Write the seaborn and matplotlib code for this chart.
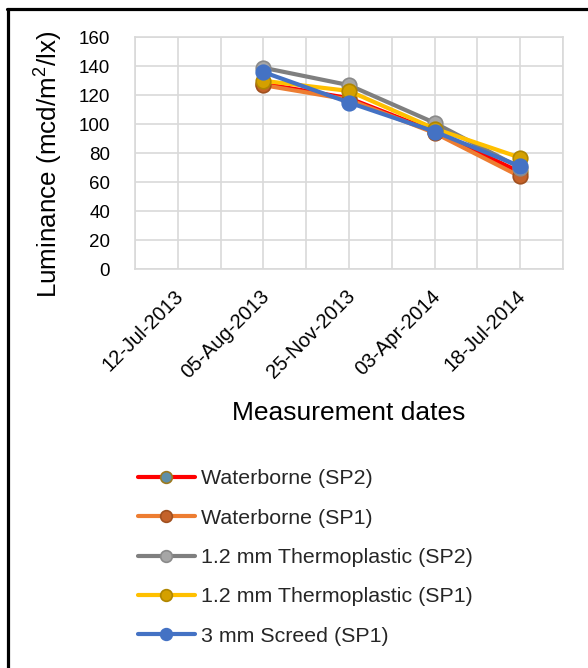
import numpy as np
import pandas as pd
import seaborn as sns
import matplotlib
matplotlib.use('Agg')
import matplotlib.pyplot as plt
import matplotlib.transforms as mtransforms
from matplotlib.lines import Line2D

# Даты измерений
dates = ['12-Jul-2013', '05-Aug-2013', '25-Nov-2013', '03-Apr-2014', '18-Jul-2014']

# Значения яркости по сериям (первая дата без данных)
waterborne_sp2 = [np.nan, 128, 118, 95, 67]
waterborne_sp1 = [np.nan, 127, 117, 94, 64]
thermo_sp2 = [np.nan, 139, 127, 101, 70]
thermo_sp1 = [np.nan, 130, 123, 97, 77]
screed_sp1 = [np.nan, 136, 115, 95, 71]

series_names = ['Waterborne (SP2)', 'Waterborne (SP1)', '1.2 mm Thermoplastic (SP2)',
                '1.2 mm Thermoplastic (SP1)', '3 mm Screed (SP1)']
series_values = [waterborne_sp2, waterborne_sp1, thermo_sp2, thermo_sp1, screed_sp1]
line_colors = ['#FF0000', '#ED7D31', '#7F7F7F', '#FFC000', '#4472C4']
marker_faces = ['#5E8FA8', '#C4622A', '#A6A6A6', '#D4A000', '#4472C4']
marker_edges = ['#9C7A1E', '#A0501F', '#8A8A8A', '#B08600', '#4472C4']

sns.set_theme(style='white')
plt.rcParams['font.family'] = ['Liberation Sans', 'DejaVu Sans']
plt.rcParams['mathtext.fontset'] = 'custom'
plt.rcParams['mathtext.rm'] = 'Liberation Sans'

fig = plt.figure(figsize=(5.88, 6.68), dpi=100)
ax = fig.add_axes([135 / 588, 1 - 269.3 / 668, 428 / 588, 232 / 668])

x_pos = np.arange(len(dates))
for name, vals, lc, mf, me in zip(series_names, series_values, line_colors, marker_faces, marker_edges):
    df = pd.DataFrame({'x': x_pos, 'y': vals})
    sns.lineplot(data=df, x='x', y='y', ax=ax, color=lc, linewidth=3, label=name,
                 marker='o', markersize=10.5, markerfacecolor=mf, markeredgecolor=me,
                 markeredgewidth=1.2)

ax.set_xlim(-0.5, len(dates) - 0.5)
ax.set_ylim(0, 160)
ax.set_yticks(np.arange(0, 161, 20))
ax.set_xticks(x_pos)
ax.set_xticklabels([])

# подписи дат: повернуты на 45°, чуть левее и ниже категории
trans = mtransforms.blended_transform_factory(ax.transData, ax.transAxes)
trans = trans + mtransforms.ScaledTranslation(-4 / 100, -17 / 100, fig.dpi_scale_trans)
for xi, d in zip(x_pos, dates):
    ax.text(xi, 0, d, transform=trans, rotation=45, ha='right', va='top',
            rotation_mode='anchor', fontsize=14.5, color='#000000')

# Сетка: линии на каждой категории и между ними
for xv in np.arange(-0.5, len(dates), 0.5):
    ax.axvline(xv, color='#D9D9D9', linewidth=1.2, zorder=0)
for yv in np.arange(0, 161, 20):
    ax.axhline(yv, color='#D9D9D9', linewidth=1.2, zorder=0)
for sp in ax.spines.values():
    sp.set_color('#D9D9D9')
    sp.set_linewidth(1.2)

ax.tick_params(axis='y', length=0, pad=18, labelsize=13.5, labelcolor='#000000')
ax.tick_params(axis='x', length=0)

ax.set_xlabel('Measurement dates', fontsize=19, color='#000000')
ax.set_ylabel('Luminance (mcd/m$^2$/lx)', fontsize=18.7, color='#000000')
ax.xaxis.set_label_coords(0.5, -0.567)
ax.yaxis.set_label_coords(-0.165, 0.452)

handles, labels = ax.get_legend_handles_labels()
ax.get_legend().remove()
fig.legend(handles, labels, loc='upper left', bbox_to_anchor=(138 / 588, 1 - 469.5 / 668),
           frameon=False, fontsize=15.4, borderpad=0, borderaxespad=0,
           handlelength=2.65, handletextpad=0.3, labelspacing=0.95, markerscale=0.8)

# Рамка вокруг рисунка (видны левая и верхняя стороны)
fig.add_artist(Line2D([7.5 / 588, 7.5 / 588], [0, 1 - 8.5 / 668], transform=fig.transFigure,
                      color='black', linewidth=2.3))
fig.add_artist(Line2D([6.5 / 588, 1], [1 - 8.5 / 668, 1 - 8.5 / 668], transform=fig.transFigure,
                      color='black', linewidth=2.3))

fig.savefig('out.png', dpi=100)
